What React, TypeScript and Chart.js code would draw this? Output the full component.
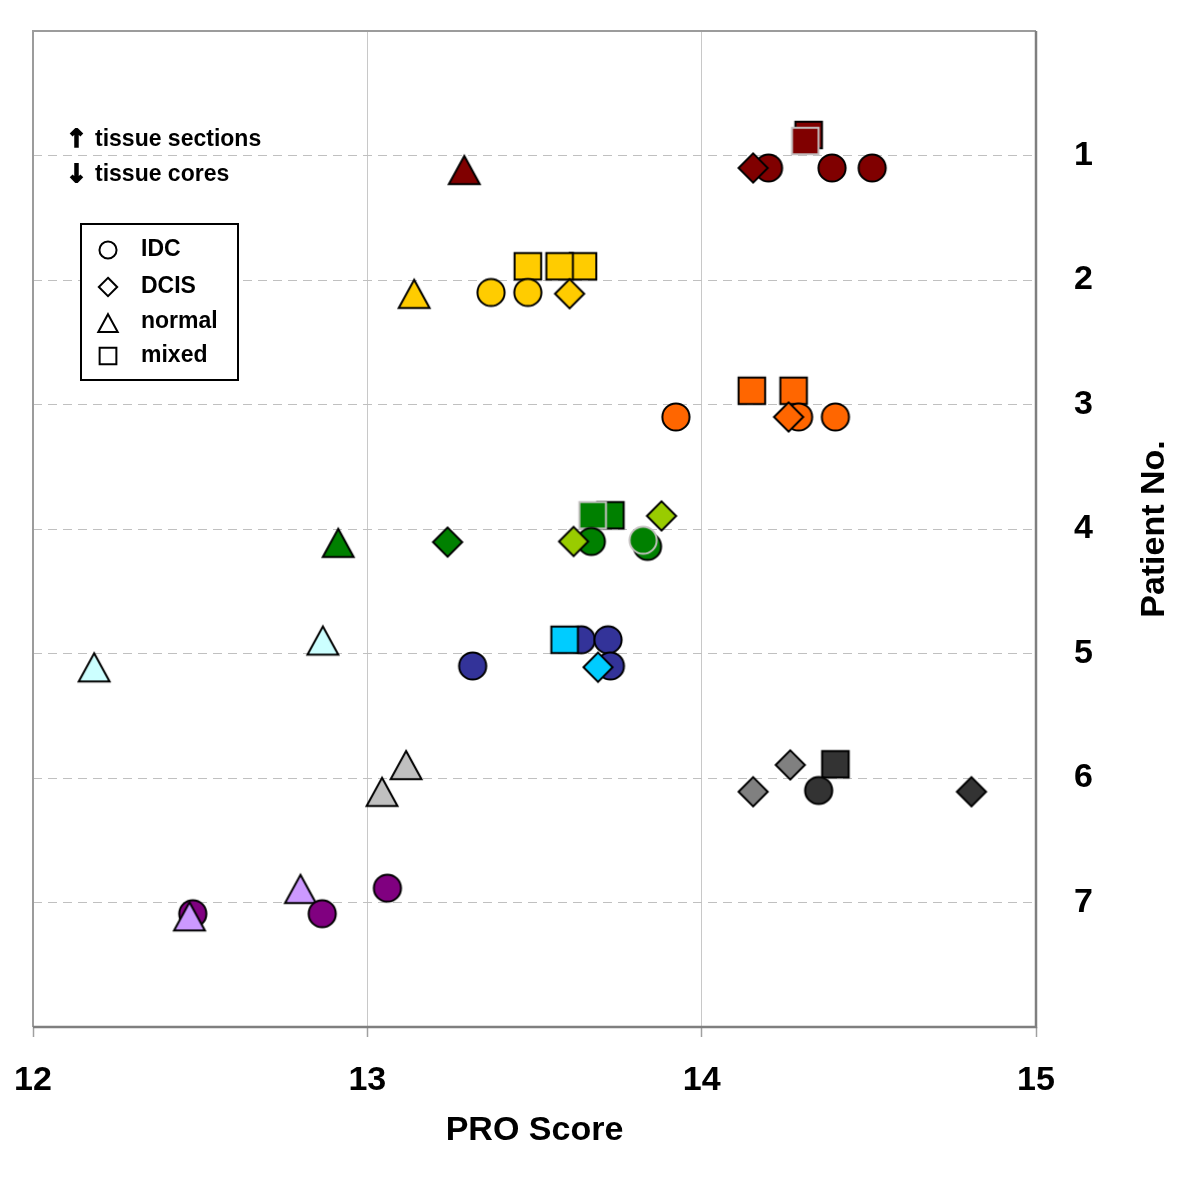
import React, { useEffect, useRef } from 'react';
import { Chart, registerables } from 'chart.js';

Chart.register(...registerables);

// ---------- axes / labels ----------
const xTicks = [12, 13, 14, 15];
const patientTicks = ['1', '2', '3', '4', '5', '6', '7'];
const legendLabels = ['IDC', 'DCIS', 'normal', 'mixed'];
const xTitle = 'PRO Score';
const yTitle = 'Patient No.';
const noteUp = 'tissue sections';
const noteDown = 'tissue cores';

// ---------- data: [PRO score, patient row position] ----------
// tissue sections (drawn slightly above the patient row)
const p5SecNormal = [[12.867, 4.895]];
const p6SecNormal = [[13.116, 5.895]];
const p7SecNormal = [[12.8, 6.89]];
const p5SecIdc = [[13.64, 4.89], [13.72, 4.89]];
const p7SecIdc = [[13.06, 6.885]];
const p1SecMixed = [[14.32, 0.835]];
const p2SecMixed = [[13.645, 1.89], [13.48, 1.89], [13.575, 1.89]];
const p3SecMixed = [[14.15, 2.89], [14.275, 2.89]];
const p4SecMixed = [[13.727, 3.89]];
const p5SecMixed = [[13.59, 4.89]];
const p6SecMixed = [[14.4, 5.89]];
const p1SecMixedB = [[14.31, 0.884]];
const p4SecMixedB = [[13.674, 3.89]];
const p4SecDcis = [[13.88, 3.895]];
const p6SecDcis = [[14.265, 5.895]];
// tissue cores (drawn slightly below the patient row)
const p1CoreIdc = [[14.2, 1.1], [14.39, 1.1], [14.51, 1.1]];
const p2CoreIdc = [[13.37, 2.1], [13.48, 2.1]];
const p3CoreIdc = [[13.923, 3.1], [14.29, 3.1], [14.4, 3.1]];
const p4CoreIdc = [[13.67, 4.1], [13.838, 4.14]];
const p5CoreIdc = [[13.315, 5.1], [13.727, 5.1]];
const p6CoreIdc = [[14.35, 6.1]];
const p7CoreIdc = [[12.478, 7.09], [12.865, 7.09]];
const p4CoreIdcB = [[13.825, 4.09]];
const p1CoreNormal = [[13.29, 1.115]];
const p2CoreNormal = [[13.14, 2.11]];
const p4CoreNormal = [[12.913, 4.11]];
const p5CoreNormal = [[12.183, 5.11]];
const p6CoreNormal = [[13.044, 6.11]];
const p7CoreNormal = [[12.468, 7.11]];
const p1CoreDcis = [[14.154, 1.1]];
const p2CoreDcis = [[13.605, 2.11]];
const p3CoreDcis = [[14.26, 3.1]];
const p4CoreDcis = [[13.24, 4.105]];
const p4CoreDcisB = [[13.617, 4.1]];
const p5CoreDcis = [[13.69, 5.11]];
const p6CoreDcis = [[14.154, 6.11]];
const p6CoreDcisB = [[14.807, 6.11]];

// ---------- styles ----------
const C = {
  p1: '#800000',
  p2: '#FFCC00',
  p3: '#FF6600',
  p4: '#008000',
  p4b: '#99CC00',
  p5n: '#CCFFFF',
  p5i: '#333399',
  p5m: '#00CCFF',
  p6n: '#C0C0C0',
  p6d: '#808080',
  p6m: '#333333',
  p7i: '#800080',
  p7n: '#CC99FF',
};
const BLACK = '#000000';
const GREY = '#C4C0C0';
const FONT = "'Liberation Sans', Arial, Helvetica, sans-serif";

type Shape = 'circle' | 'square' | 'diamond' | 'triangle';
interface Spec { label: string; data: number[][]; shape: Shape; fill: string; stroke?: string }

// listed bottom-most first
const series: Spec[] = [
  { label: 'P5 normal sections', data: p5SecNormal, shape: 'triangle', fill: C.p5n },
  { label: 'P6 normal sections', data: p6SecNormal, shape: 'triangle', fill: C.p6n },
  { label: 'P7 normal sections', data: p7SecNormal, shape: 'triangle', fill: C.p7n },
  { label: 'P5 IDC sections', data: p5SecIdc, shape: 'circle', fill: C.p5i },
  { label: 'P7 IDC sections', data: p7SecIdc, shape: 'circle', fill: C.p7i },
  { label: 'P1 mixed sections', data: p1SecMixed, shape: 'square', fill: C.p1 },
  { label: 'P2 mixed sections', data: p2SecMixed, shape: 'square', fill: C.p2 },
  { label: 'P3 mixed sections', data: p3SecMixed, shape: 'square', fill: C.p3 },
  { label: 'P4 mixed sections', data: p4SecMixed, shape: 'square', fill: C.p4 },
  { label: 'P5 mixed sections', data: p5SecMixed, shape: 'square', fill: C.p5m },
  { label: 'P6 mixed sections', data: p6SecMixed, shape: 'square', fill: C.p6m },
  { label: 'P1 mixed sections (2)', data: p1SecMixedB, shape: 'square', fill: C.p1, stroke: GREY },
  { label: 'P4 mixed sections (2)', data: p4SecMixedB, shape: 'square', fill: C.p4, stroke: GREY },
  { label: 'P4 DCIS sections', data: p4SecDcis, shape: 'diamond', fill: C.p4b },
  { label: 'P6 DCIS sections', data: p6SecDcis, shape: 'diamond', fill: C.p6d },
  { label: 'P1 IDC cores', data: p1CoreIdc, shape: 'circle', fill: C.p1 },
  { label: 'P2 IDC cores', data: p2CoreIdc, shape: 'circle', fill: C.p2 },
  { label: 'P3 IDC cores', data: p3CoreIdc, shape: 'circle', fill: C.p3 },
  { label: 'P4 IDC cores', data: p4CoreIdc, shape: 'circle', fill: C.p4 },
  { label: 'P5 IDC cores', data: p5CoreIdc, shape: 'circle', fill: C.p5i },
  { label: 'P6 IDC cores', data: p6CoreIdc, shape: 'circle', fill: C.p6m },
  { label: 'P7 IDC cores', data: p7CoreIdc, shape: 'circle', fill: C.p7i },
  { label: 'P4 IDC cores (2)', data: p4CoreIdcB, shape: 'circle', fill: C.p4, stroke: GREY },
  { label: 'P1 normal cores', data: p1CoreNormal, shape: 'triangle', fill: C.p1 },
  { label: 'P2 normal cores', data: p2CoreNormal, shape: 'triangle', fill: C.p2 },
  { label: 'P4 normal cores', data: p4CoreNormal, shape: 'triangle', fill: C.p4 },
  { label: 'P5 normal cores', data: p5CoreNormal, shape: 'triangle', fill: C.p5n },
  { label: 'P6 normal cores', data: p6CoreNormal, shape: 'triangle', fill: C.p6n },
  { label: 'P7 normal cores', data: p7CoreNormal, shape: 'triangle', fill: C.p7n },
  { label: 'P1 DCIS cores', data: p1CoreDcis, shape: 'diamond', fill: C.p1 },
  { label: 'P2 DCIS cores', data: p2CoreDcis, shape: 'diamond', fill: C.p2 },
  { label: 'P3 DCIS cores', data: p3CoreDcis, shape: 'diamond', fill: C.p3 },
  { label: 'P4 DCIS cores', data: p4CoreDcis, shape: 'diamond', fill: C.p4 },
  { label: 'P4 DCIS cores (2)', data: p4CoreDcisB, shape: 'diamond', fill: C.p4b },
  { label: 'P5 DCIS cores', data: p5CoreDcis, shape: 'diamond', fill: C.p5m },
  { label: 'P6 DCIS cores', data: p6CoreDcis, shape: 'diamond', fill: C.p6d },
  { label: 'P6 DCIS cores (2)', data: p6CoreDcisB, shape: 'diamond', fill: C.p6m },
];

function shapePath(g: CanvasRenderingContext2D, shape: Shape, cx: number, cy: number, s: number) {
  g.beginPath();
  if (shape === 'circle') {
    g.arc(cx, cy, s * 0.95, 0, Math.PI * 2);
  } else if (shape === 'square') {
    g.rect(cx - s * 0.93, cy - s * 0.93, s * 1.86, s * 1.86);
  } else if (shape === 'diamond') {
    g.moveTo(cx, cy - s * 1.02);
    g.lineTo(cx + s * 1.02, cy);
    g.lineTo(cx, cy + s * 1.02);
    g.lineTo(cx - s * 1.02, cy);
  } else {
    g.moveTo(cx, cy - s * 0.98);
    g.lineTo(cx + s * 1.08, cy + s * 1.0);
    g.lineTo(cx - s * 1.08, cy + s * 1.0);
  }
  g.closePath();
}

function makeMarker(shape: Shape, fill: string, stroke: string): HTMLCanvasElement {
  const c = document.createElement('canvas');
  c.width = 42;
  c.height = 42;
  const g = c.getContext('2d')!;
  g.lineWidth = 2;
  g.lineJoin = 'miter';
  g.fillStyle = fill;
  g.strokeStyle = stroke;
  shapePath(g, shape, 21, 21, 14.3);
  g.fill();
  g.stroke();
  return c;
}

const decorPlugin = {
  id: 'decor',
  beforeDatasetsDraw(chart: any) {
    const { ctx: g, chartArea: a } = chart;
    g.save();
    g.lineWidth = 2;
    g.strokeStyle = '#9c9c9c';
    g.beginPath();
    g.moveTo(a.left, a.bottom);
    g.lineTo(a.left, a.top);
    g.lineTo(a.right, a.top);
    g.stroke();
    g.lineWidth = 2.5;
    g.strokeStyle = '#7f7f7f';
    g.beginPath();
    g.moveTo(a.right, a.top);
    g.lineTo(a.right, a.bottom);
    g.lineTo(a.left, a.bottom);
    g.stroke();
    g.restore();
  },
  afterDatasetsDraw(chart: any) {
    const { ctx: g, chartArea: a } = chart;
    g.save();
    // notes
    g.fillStyle = '#000';
    g.strokeStyle = '#000';
    g.textBaseline = 'middle';
    g.textAlign = 'left';
    g.font = `bold 25px 'DejaVu Sans', sans-serif`;
    g.lineWidth = 1.6;
    g.fillText('\u2191', a.left + 33, a.top + 109);
    g.strokeText('\u2191', a.left + 33, a.top + 109);
    g.fillText('\u2193', a.left + 33, a.top + 144);
    g.strokeText('\u2193', a.left + 33, a.top + 144);
    g.font = `bold 23px ${FONT}`;
    g.fillText(noteUp, a.left + 62, a.top + 109);
    g.fillText(noteDown, a.left + 62, a.top + 144);
    // legend box
    const bx = a.left + 48, by = a.top + 193, bw = 157, bh = 156;
    g.fillStyle = '#fff';
    g.fillRect(bx, by, bw, bh);
    g.lineWidth = 2;
    g.strokeStyle = '#000';
    g.strokeRect(bx, by, bw, bh);
    const shapes: Shape[] = ['circle', 'diamond', 'triangle', 'square'];
    const rows = [250, 287, 322, 356];
    shapes.forEach((sh, i) => {
      const cy = rows[i] - 31 + a.top;
      g.fillStyle = '#fff';
      g.strokeStyle = '#000';
      g.lineWidth = 2;
      shapePath(g, sh, a.left + 75, cy + (sh === 'triangle' ? 1 : 0), 9);
      g.fill();
      g.stroke();
      g.fillStyle = '#000';
      g.font = `bold 23px ${FONT}`;
      g.textBaseline = 'middle';
      g.fillText(legendLabels[i], a.left + 108, cy);
    });
    g.restore();
  },
  afterDraw(chart: any) {
    const { ctx: g, chartArea: a } = chart;
    g.save();
    g.translate(a.right + 119, (a.top + a.bottom) / 2);
    g.rotate(-Math.PI / 2);
    g.fillStyle = '#000';
    g.font = `bold 34px ${FONT}`;
    g.textAlign = 'center';
    g.textBaseline = 'middle';
    g.fillText(yTitle, 0, 0);
    g.restore();
  },
};

const zeroPad = (s: any) => {
  s.paddingLeft = 0;
  s.paddingRight = 0;
  s.paddingTop = 0;
  s.paddingBottom = 0;
};

export default function App() {
  const ref = useRef<HTMLCanvasElement>(null);
  useEffect(() => {
    const canvas = ref.current!;
    const cache = new Map<string, HTMLCanvasElement>();
    const marker = (shape: Shape, fill: string, stroke: string) => {
      const key = `${shape}|${fill}|${stroke}`;
      if (!cache.has(key)) cache.set(key, makeMarker(shape, fill, stroke));
      return cache.get(key)!;
    };
    const datasets = series.map((s, i) => ({
      label: s.label,
      data: s.data.map(([x, y]) => ({ x, y })),
      pointStyle: marker(s.shape, s.fill, s.stroke ?? BLACK),
      pointRadius: 15,
      showLine: false,
      order: series.length - i,
    }));
    const tickFont = { family: FONT, size: 34, weight: 'bold' as const };
    const chart = new Chart(canvas, {
      type: 'scatter',
      data: { datasets },
      options: {
        animation: false,
        responsive: false,
        devicePixelRatio: 1,
        events: [],
        layout: { padding: { left: 33, top: 31, right: 0, bottom: 0 } },
        plugins: { legend: { display: false }, tooltip: { enabled: false } },
        scales: {
          x: {
            type: 'linear',
            position: 'bottom',
            min: 12,
            max: 15,
            afterBuildTicks: (s: any) => {
              s.ticks = xTicks.map((v) => ({ value: v }));
            },
            ticks: {
              font: tickFont,
              color: '#000',
              padding: 23,
              maxRotation: 0,
              autoSkip: false,
              callback: (v: any) => String(v),
            },
            grid: {
              color: (c: any) =>
                c.tick && (c.tick.value === 12 || c.tick.value === 15) ? 'rgba(0,0,0,0)' : '#c8c8c8',
              lineWidth: 1,
              tickLength: 10,
              tickColor: '#a0a0a0',
              tickWidth: 1.5,
            },
            border: { display: false },
            title: {
              display: true,
              text: xTitle,
              color: '#000',
              font: tickFont,
              padding: { top: 0, bottom: 40 },
            },
            afterFit: (s: any) => {
              s.height = 164;
              zeroPad(s);
            },
          },
          y: {
            type: 'linear',
            position: 'right',
            min: 0,
            max: 8,
            reverse: true,
            afterBuildTicks: (s: any) => {
              s.ticks = [0, 1, 2, 3, 4, 5, 6, 7, 8].map((v) => ({ value: v }));
            },
            ticks: {
              font: tickFont,
              color: '#000',
              padding: 38,
              crossAlign: 'near',
              autoSkip: false,
              callback: (v: any) => (v >= 1 && v <= 7 ? patientTicks[v - 1] : ''),
            },
            grid: {
              color: (c: any) =>
                c.tick && (c.tick.value === 0 || c.tick.value === 8) ? 'rgba(0,0,0,0)' : '#c0c0c0',
              lineWidth: 1,
              drawTicks: false,
            },
            border: { display: false, dash: [9, 6] },
            afterFit: (s: any) => {
              s.width = 164;
              zeroPad(s);
            },
          },
        },
      } as any,
      plugins: [decorPlugin],
    });
    return () => chart.destroy();
  }, []);
  return (
    <div style={{ position: 'absolute', left: 0, top: 0, width: 1200, height: 1191, background: '#fff' }}>
      <canvas ref={ref} width={1200} height={1191} style={{ display: 'block' }} />
    </div>
  );
}
